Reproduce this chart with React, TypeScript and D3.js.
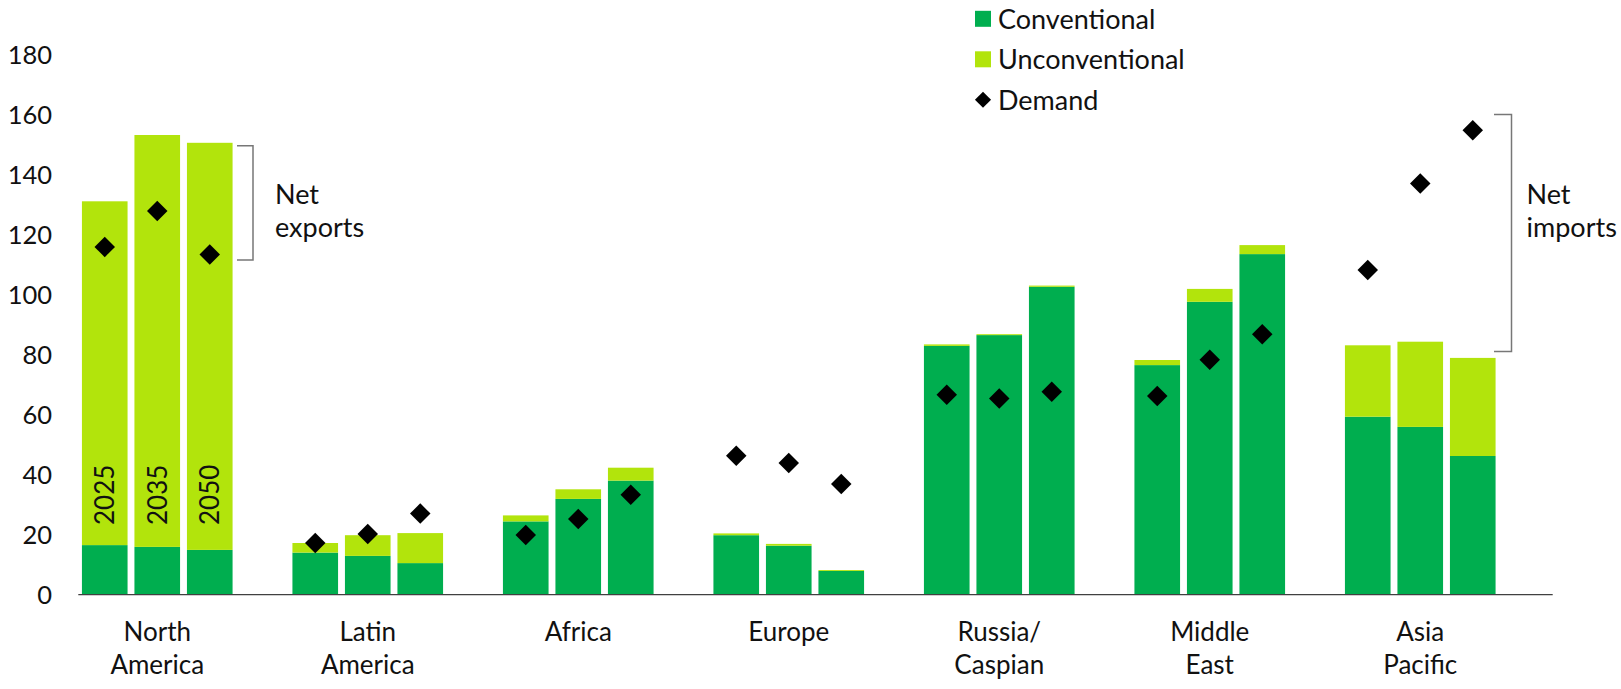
import React from "react";
import * as d3 from "d3";

const regions = ["North America", "Latin America", "Africa", "Europe", "Russia/ Caspian", "Middle East", "Asia Pacific"];
const regionLines = [["North", "America"], ["Latin", "America"], ["Africa"], ["Europe"], ["Russia/", "Caspian"], ["Middle", "East"], ["Asia", "Pacific"]];
const years = ["2025", "2035", "2050"];

const conventional = [
  [16.5, 15.9, 14.9],
  [14.0, 12.9, 10.5],
  [24.4, 31.9, 38.0],
  [19.8, 16.3, 7.9],
  [82.9, 86.5, 102.6],
  [76.5, 97.6, 113.5],
  [59.3, 55.9, 46.2],
];
const unconventional = [
  [114.6, 137.3, 135.7],
  [3.2, 6.9, 10.0],
  [2.0, 3.2, 4.3],
  [0.6, 0.6, 0.3],
  [0.5, 0.3, 0.4],
  [1.7, 4.3, 3.0],
  [23.8, 28.4, 32.7],
];
const demand = [
  [115.9, 127.9, 113.4],
  [17.2, 20.2, 27.0],
  [19.9, 25.2, 33.3],
  [46.3, 43.9, 36.9],
  [66.6, 65.4, 67.6],
  [66.2, 78.3, 86.8],
  [108.2, 137.0, 154.8],
];
const yTicks = [0, 20, 40, 60, 80, 100, 120, 140, 160, 180];
const legendItems = ["Conventional", "Unconventional", "Demand"];
const exportsBracket = [149.6, 111.5];
const importsBracket = [160, 81];

const C_CONV = "#00AE4F";
const C_UNCONV = "#B2E40C";
const FONT = "Lato, 'Open Sans', sans-serif";

export default function App() {
  const W = 1621, H = 689;
  const y = d3.scaleLinear().domain([0, 180]).range([594.6, 54.6]);
  const x0 = d3.scaleBand<string>().domain(regions).range([52, 52 + 7 * 210.5]).padding(0);
  const x1 = d3.scaleBand<string>().domain(years).range([0, x0.bandwidth()]).paddingInner(0.131).paddingOuter(0.57);
  const diamond = d3.symbol().type(d3.symbolSquare).size(210)();
  const legendDiamond = d3.symbol().type(d3.symbolSquare).size(130)();

  return (
    <svg width={W} height={H} style={{ position: "absolute", left: 0, top: 0, background: "#fff" }} fontFamily={FONT}>
      {/* y tick labels */}
      {yTicks.map((t) => (
        <text key={t} x={52} y={y(t)} dy="0.36em" textAnchor="end" fontSize={25.5} fill="#111">{t}</text>
      ))}
      {/* bars */}
      {regions.map((r, i) => (
        <g key={r} transform={`translate(${x0(r)},0)`}>
          {years.map((yr, j) => {
            const c = conventional[i][j];
            const u = unconventional[i][j];
            const bx = x1(yr)!;
            const bw = x1.bandwidth();
            return (
              <g key={yr}>
                <rect x={bx} width={bw} y={y(c)} height={y(0) - y(c)} fill={C_CONV} />
                <rect x={bx} width={bw} y={y(c + u)} height={y(c) - y(c + u)} fill={C_UNCONV} />
              </g>
            );
          })}
        </g>
      ))}
      {/* axis line */}
      <line x1={78.3} x2={1552.7} y1={y(0)} y2={y(0)} stroke="#404040" strokeWidth={1.4} />
      {/* year labels in first group */}
      {years.map((yr) => (
        <text key={yr} transform={`translate(${x0(regions[0])! + x1(yr)! + x1.bandwidth() / 2},525) rotate(-90)`} dy="0.36em" fontSize={26} fill="#111">{yr}</text>
      ))}
      {/* demand diamonds */}
      {regions.map((r, i) => years.map((yr, j) => (
        <path key={r + yr} d={diamond} fill="#000"
          transform={`translate(${x0(r)! + x1(yr)! + x1.bandwidth() / 2},${y(demand[i][j])}) rotate(45)`} />
      )))}
      {/* x labels */}
      {regions.map((r, i) => (
        <text key={r} x={x0(r)! + x0.bandwidth() / 2} y={640.5} textAnchor="middle" fontSize={26} fill="#111">
          {regionLines[i].map((l, k) => (
            <tspan key={k} x={x0(r)! + x0.bandwidth() / 2} dy={k === 0 ? 0 : 33.5}>{l}</tspan>
          ))}
        </text>
      ))}
      {/* net exports bracket */}
      <path d={`M237,${y(exportsBracket[0])}H253V${y(exportsBracket[1])}H237`} fill="none" stroke="#777" strokeWidth={1.5} />
      <text x={275} y={204} fontSize={27} fill="#111">
        <tspan x={275}>Net</tspan>
        <tspan x={275} dy={33}>exports</tspan>
      </text>
      {/* net imports bracket */}
      <path d={`M1494,${y(importsBracket[0])}H1511.5V${y(importsBracket[1])}H1494`} fill="none" stroke="#777" strokeWidth={1.5} />
      <text x={1526.5} y={204} fontSize={27} fill="#111">
        <tspan x={1526.5}>Net</tspan>
        <tspan x={1526.5} dy={33}>imports</tspan>
      </text>
      {/* legend */}
      {legendItems.map((l, k) => {
        const cy = 18.8 + k * 40.5;
        return (
          <g key={l}>
            {k < 2 ? (
              <rect x={975} y={cy - 8} width={16} height={16} fill={k === 0 ? C_CONV : C_UNCONV} />
            ) : (
              <path d={legendDiamond} transform={`translate(983,${cy}) rotate(45)`} fill="#000" />
            )}
            <text x={998} y={cy} dy="0.36em" fontSize={27} fill="#111">{l}</text>
          </g>
        );
      })}
    </svg>
  );
}
